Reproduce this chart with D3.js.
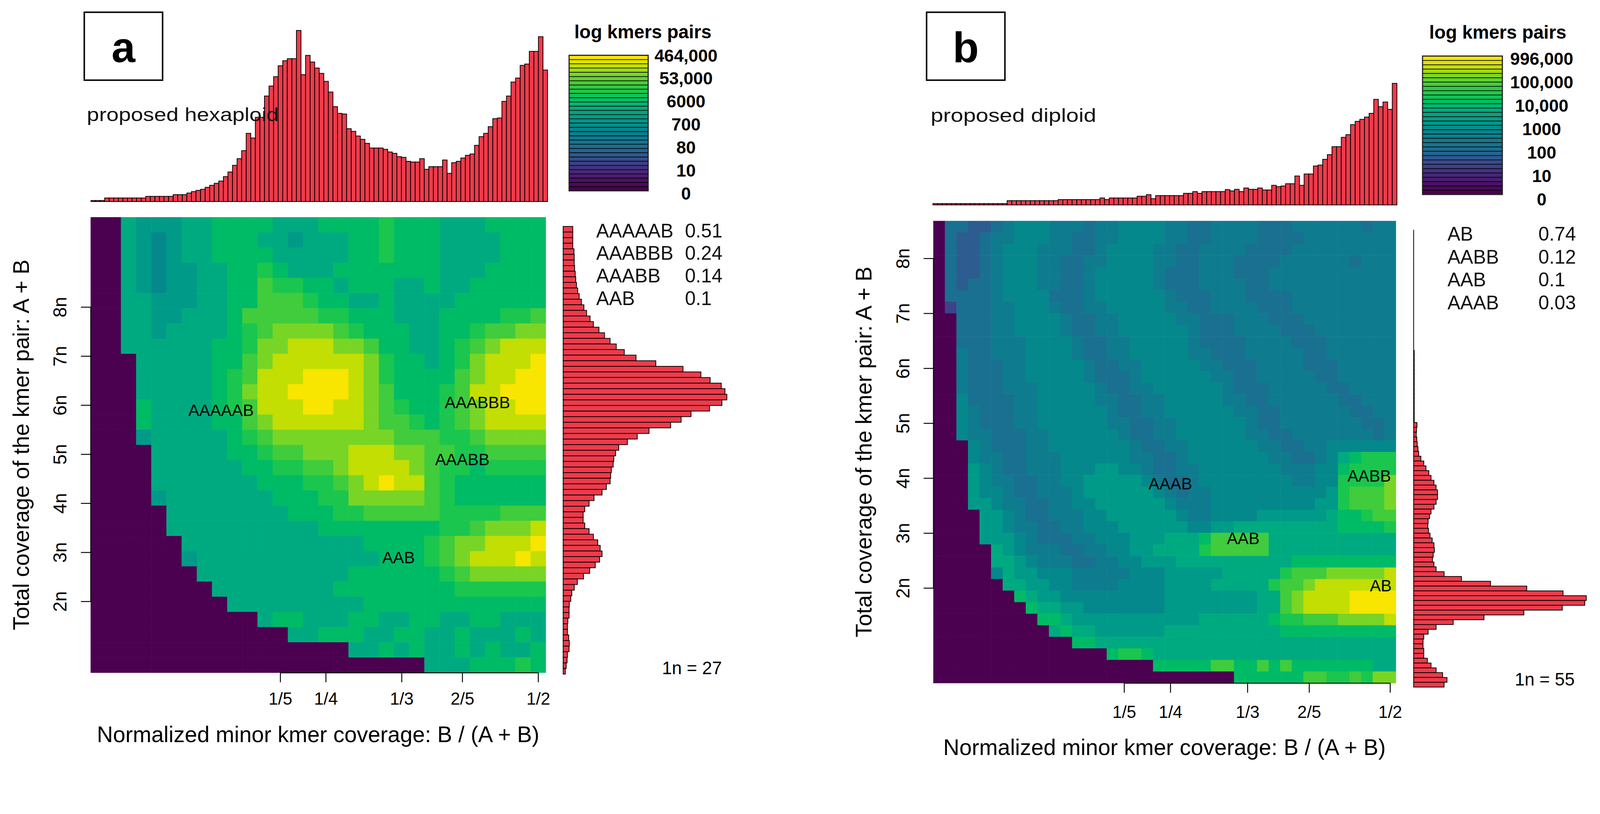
<!DOCTYPE html>
<html>
<head>
<meta charset="utf-8">
<script src="https://cdn.jsdelivr.net/npm/d3@7"></script>
<style>
  html, body { margin: 0; padding: 0; background: #fff; overflow: hidden; }
  #chart { display: block; width: 100%; height: auto; }
  svg text { font-family: "Liberation Sans", Arial, Helvetica, sans-serif; }
</style>
</head>
<body>
<svg id="chart" viewBox="0 0 4310 2084" preserveAspectRatio="xMinYMin meet"></svg>
<script>

// colour levels 0..15 (0 = empty cell), one hex char per cell, rows listed top to bottom
var heatA = [
  '00988 899aa aa999 aaaab aaa99 9aaaa',
  '00987 899aa a9989 99aab aaa99 99aaa',
  '00987 899aa aa999 99aab aaa99 99aaa',
  '00987 8899a aba99 9aaaa aaa99 9aaaa',
  '00987 8899a acbba a9aaa 99a99 aaaaa',
  '00998 8899a acccb aa99a 9999a aaaaa',
  '00998 8999a ccccc bbaaa 999aa aabbc',
  '00998 9999a bcddd dcbaa a99aa bccdd',
  '00999 999aa bddee eddca a99ab cdeee',
  '00099 999aa cdeee eeedb aa9ab deeef',
  '00099 999ab ceeef ffedb aaaac deeff',
  '00099 999ab deeff ffedc aaabc eefff',
  '000a9 999ab ceeef feedc baabc deeff',
  '000a9 999aa cdeee eeedc cbabc deeee',
  '00089 9999a bcddd ddddd cccbb cdddd',
  '00009 9999a abccd ddeee ddccb bcccc',
  '00009 99999 aabbc cdeee edcbb abbbb',
  '00009 99999 9aaab bcdef eecba aaaaa',
  '00008 99999 99aaa bbddd ddcba aaaaa',
  '00000 99999 999aa abbcc cccbb bbccc',
  '00000 99999 99999 aaaaa aaabb cddde',
  '00000 09999 99999 999aa aabcd deeef',
  '00000 08999 99999 9999a aabcd eeefe',
  '00000 00999 99999 99aaa aaabc ddddd',
  '00000 00099 99999 9aaaa aaaab bbbbb',
  '00000 00009 99999 999aa aaaaa aaaaa',
  '00000 00000 09aa9 99aa9 9aa99 aa999',
  '00000 00000 00099 aaa99 aa99a 999a9',
  '00000 00000 00000 0099a 9a99a 9a99a',
  '00000 00000 00000 00000 00999 aaaba'
];

var heatB = [
  '05544 56777 66656 67777 66556 66655 56666 66566',
  '05445 66777 66556 67777 66556 66655 55666 66666',
  '05445 67776 66556 77776 65566 66555 56666 66666',
  '05445 67776 65566 77776 65566 65555 66666 65666',
  '05445 67776 65567 77776 55566 65556 66666 66666',
  '05455 67776 65567 77776 55566 66556 66666 66666',
  '05555 67777 55567 77777 65556 66555 56666 66666',
  '03555 66777 65566 77777 66556 66655 56666 66666',
  '00555 66777 76556 67777 76655 56665 55666 66666',
  '00555 66777 76556 67777 77655 56666 55566 66666',
  '00555 66677 77655 66777 77655 55666 65556 66666',
  '00655 66677 77655 66777 77665 55666 66556 66666',
  '00655 56677 77765 56677 77766 55566 66555 66666',
  '00655 56677 77765 55677 77776 65566 66655 66666',
  '00655 56667 77776 55667 77777 65556 66665 56666',
  '00755 55667 77776 65566 77777 66556 66666 55666',
  '00765 55667 77777 65566 77777 76655 66666 65566',
  '00765 55667 77777 66556 67777 77655 66666 66556',
  '00766 55566 77777 76556 67777 77665 56666 66656',
  '00076 55566 77777 77655 66777 77766 55667 77777',
  '00076 65566 67777 77665 56777 77776 65567 9abbb',
  '00087 65566 67778 87765 56677 77777 66677 abbbb',
  '00087 66556 67788 88876 55677 77777 76677 bbbbd',
  '00087 76556 66788 88887 65667 77777 77778 bcccd',
  '00088 76655 66778 88888 76667 77777 77788 bcccd',
  '00008 87655 66677 88888 87667 77788 88889 aabcc',
  '00008 87665 56677 78888 88778 89999 99999 aaaab',
  '00008 88765 55667 77888 999ac cccc9 99999 99999',
  '00000 98766 65566 77889 999bc cccc9 99999 99999',
  '00000 99876 66556 67788 89999 99999 9aaaa aaaaa',
  '00000 79887 77666 66777 88888 99999 bcccd dddde',
  '00000 09988 77666 67777 88889 9999b ccdee eeeee',
  '00000 00a98 87777 77777 88888 88899 cdeee effff',
  '00000 000a9 98877 77777 88888 88899 cdeee effff',
  '00000 0000a a9888 88888 88899 9999a bbccc dddde',
  '00000 00000 9a998 88888 99999 99999 aaaaa aaaaa',
  '00000 00000 00aa9 99999 99999 99999 99999 99999',
  '00000 00000 00000 abba9 99999 99999 99999 99999',
  '00000 00000 00000 0000a aaaac caaca caaaa aaa99',
  '00000 00000 00000 00000 00000 0aaaa aaccb bcbdd'
];

// top histograms: minor kmer coverage, 100 bins from 0 to 1/2
var topHistA = [
  0.8, 0.8, 0.8, 2.7, 2.7, 2.7, 2.7, 2.7, 2.7, 2.7,
  2.7, 2.7, 3.9, 3.9, 3.9, 3.9, 3.9, 3.9, 5.2, 5.2,
  5.2, 6.4, 7.5, 8.4, 9.2, 10.7, 12.2, 13.7, 15.4, 18.7,
  22.2, 27.2, 32.2, 38.2, 51.2, 47.7, 63.2, 63.2, 79.2, 86.7,
  93.7, 101.9, 105.7, 107.2, 107.2, 128.4, 95.2, 109.7, 104.7, 100.2,
  96.2, 90.2, 82.2, 71.2, 66.2, 65.7, 54.7, 52.7, 49.2, 46.7,
  43.7, 40.2, 40.2, 40.2, 39.2, 37.2, 36.2, 33.7, 33.2, 30.2,
  29.7, 29.7, 32.2, 24.2, 26.2, 26.2, 26.2, 31.2, 21.2, 29.2,
  30.2, 32.7, 34.7, 35.7, 42.2, 48.7, 51.2, 56.2, 62.2, 62.7,
  75.2, 79.2, 89.7, 92.7, 102.2, 103.2, 112.7, 112.7, 123.7, 98.7
];
var topHistB = [
  1.0, 1.0, 1.0, 1.0, 1.0, 1.0, 1.0, 1.0, 1.0, 1.0,
  1.0, 1.0, 1.0, 1.0, 1.0, 1.0, 3.2, 3.2, 3.2, 3.2,
  3.2, 3.2, 3.2, 3.2, 3.2, 3.2, 3.2, 4.0, 4.0, 4.0,
  4.0, 4.0, 4.0, 4.0, 4.0, 4.0, 5.2, 4.0, 5.2, 5.2,
  5.2, 5.2, 5.2, 5.2, 6.5, 6.5, 7.7, 4.7, 7.0, 7.0,
  7.0, 7.0, 7.0, 7.0, 8.7, 8.7, 10.0, 8.7, 10.0, 10.0,
  10.0, 10.0, 10.0, 11.5, 10.5, 11.7, 10.0, 12.7, 11.7, 11.7,
  12.7, 11.2, 11.2, 14.7, 13.7, 14.2, 15.9, 15.9, 21.7, 14.7,
  23.2, 23.2, 29.2, 29.9, 34.2, 37.7, 43.7, 43.7, 50.7, 52.7,
  60.2, 62.7, 64.2, 65.9, 68.7, 79.2, 73.7, 77.2, 71.7, 91.2
];

// side histograms: total pair coverage, bars listed from the top (high coverage) down
var sideHistA = [
  7.8, 7.8, 7.8, 7.8, 8.8, 9.0, 9.0, 9.3, 9.8, 10.2,
  10.8, 11.8, 13.0, 14.8, 16.8, 19.0, 21.8, 24.5, 29.0, 33.5,
  38.0, 43.0, 49.5, 59.0, 75.0, 97.0, 111.5, 119.0, 128.0, 131.0,
  132.5, 128.5, 118.5, 103.5, 95.5, 87.0, 69.5, 60.0, 52.0, 45.0,
  42.5, 41.0, 40.5, 39.0, 38.5, 38.0, 35.0, 31.5, 25.0, 21.0,
  17.5, 16.2, 16.2, 17.5, 21.0, 24.5, 28.0, 30.0, 31.5, 29.5,
  26.0, 21.5, 16.5, 11.5, 9.0, 7.0, 6.2, 5.0, 4.8, 4.8,
  3.8, 3.5, 3.5, 4.5, 5.0, 4.8, 3.5, 3.2, 2.5, 1.8
];
var sideHistB = [
  0, 0, 0, 0, 0, 0, 0, 0, 0, 0,
  0, 0, 0, 0, 0, 0, 0, 0, 0, 0,
  0, 0, 0, 0, 0, 0.4, 0.4, 0.4, 0.4, 0.4,
  0.4, 0.4, 0.4, 0.4, 0.4, 0.4, 0.4, 0.4, 0.4, 0.4,
  2.3, 2.0, 1.8, 2.2, 2.5, 3.0, 3.5, 5.0, 7.0, 8.5,
  10.5, 12.0, 14.0, 15.5, 16.5, 16.5, 15.5, 14.0, 12.0, 11.0,
  10.0, 9.8, 10.3, 11.3, 12.8, 14.0, 14.3, 13.5, 13.0, 14.0,
  15.5, 21.0, 33.0, 53.0, 78.0, 103.0, 119.0, 118.0, 102.5, 76.0,
  48.5, 27.3, 15.5, 10.0, 7.0, 6.5, 6.5, 7.0, 7.0, 9.5,
  12.0, 15.5, 20.0, 23.0, 21.0
];

var xTickRatios = [1 / 5, 1 / 4, 1 / 3, 2 / 5, 1 / 2];
var xTickLabels = ['1/5', '1/4', '1/3', '2/5', '1/2'];
var yTickN = [2, 3, 4, 5, 6, 7, 8];
var yTickLabels = ['2n', '3n', '4n', '5n', '6n', '7n', '8n'];

var legendLabelsA = ['0', '10', '80', '700', '6000', '53,000', '464,000'];
var legendLabelsB = ['0', '10', '100', '1000', '10,000', '100,000', '996,000'];

var genomesA = ['AAAAAB', 'AAABBB', 'AAABB', 'AAB'];
var propsA = ['0.51', '0.24', '0.14', '0.1'];
var genomesB = ['AB', 'AABB', 'AAB', 'AAAB'];
var propsB = ['0.74', '0.12', '0.1', '0.03'];

// smudge labels: x in heatmap bins, y in multiples of n
var smudgeNamesA = ['AAAAAB', 'AAABBB', 'AAABB', 'AAB'];
var smudgeBinA = [8.6, 25.5, 24.5, 20.3];
var smudgeNA = [5.89, 6.05, 4.89, 2.89];
var smudgeNamesB = ['AAAB', 'AABB', 'AAB', 'AB'];
var smudgeBinB = [20.5, 37.7, 26.8, 38.7];
var smudgeNB = [3.9, 4.04, 2.9, 2.04];

// ---- styles ----
var paletteLevels = ['#4b0050', '#4a1466', '#47297a', '#3e4289', '#2c5c90', '#1a7090',
  '#0e7c8e', '#05888b', '#009a88', '#00aa80', '#00bb66', '#1ac64e',
  '#40cc3c', '#78d526', '#c2de02', '#f8e500'];
var barRed = '#ee3b4b';
var font = '"Liberation Sans", Arial, Helvetica, sans-serif';

var levelColor = d3.scaleLinear().domain(d3.range(paletteLevels.length)).range(paletteLevels);
var topScale = d3.scaleLinear()
  .domain([0, d3.max(topHistA.concat(topHistB))])
  .range([0, 461]);

var svg = d3.select('#chart');
svg.append('rect').attr('width', 4310).attr('height', 2084).attr('fill', '#fff');

var panels = [
  {
    letter: 'a', box: [227, 33, 211, 183],
    note: 'proposed hexaploid', noteX: 234, noteY: 326, noteLen: 517,
    heat: heatA, nb: 30, hx: [244, 1470], hy: [585, 1812], n2y: 1620, n8y: 827,
    top: topHistA, topX: [245, 1475], topBase: 543,
    side: sideHistA, sideX: 1517, sideW: 441, sideY: [610, 1816],
    legend: legendLabelsA, legBar: [1533, 149, 213, 365], legLabelX: 1848, legLabelY: [521, 149.5],
    legTitleX: 1547, legTitleY: 103,
    genomes: genomesA, props: propsA, gX: 1606, pX: 1845, gY0: 621, gStep: 60.7,
    sNames: smudgeNamesA, sBin: smudgeBinA, sN: smudgeNA,
    nLabel: '1n = 27', nLabelX: 1864, nLabelY: 1800,
    xTickPad: 28, xTitleY: 1978, yTitleX: 57
  },
  {
    letter: 'b', box: [2496, 33, 211, 183],
    note: 'proposed diploid', noteX: 2507, noteY: 328, noteLen: 446,
    heat: heatB, nb: 40, hx: [2514, 3760], hy: [595, 1840], n2y: 1584, n8y: 696,
    top: topHistB, topX: [2513, 3763], topBase: 552,
    side: sideHistB, sideX: 3808, sideW: 465, sideY: [620, 1851],
    legend: legendLabelsB, legBar: [3832, 151, 215, 373], legLabelX: 4153, legLabelY: [537, 158],
    legTitleX: 3850, legTitleY: 104,
    genomes: genomesB, props: propsB, gX: 3899, pX: 4144, gY0: 630, gStep: 61.7,
    sNames: smudgeNamesB, sBin: smudgeBinB, sN: smudgeNB,
    nLabel: '1n = 55', nLabelX: 4161, nLabelY: 1830,
    xTickPad: 35, xTitleY: 2013, yTitleX: 2327
  }
];

var drawPanel = function (p) {
  var g = svg.append('g').attr('class', 'panel-' + p.letter);

  // heatmap
  var cells = [];
  p.heat.forEach(function (row, r) {
    row.replace(/ /g, '').split('').forEach(function (ch, c) {
      cells.push({ r: r, c: c, level: parseInt(ch, 16) });
    });
  });
  var xs = d3.scaleLinear().domain([0, p.nb]).range(p.hx);
  var rs = d3.scaleLinear().domain([0, p.nb]).range(p.hy);
  var ns = d3.scaleLinear().domain([2, 8]).range([p.n2y, p.n8y]);

  g.append('g').selectAll('rect')
    .data(cells)
    .enter()
    .append('rect')
    .attr('x', function (d) { return xs(d.c); })
    .attr('y', function (d) { return rs(d.r); })
    .attr('width', function (d) { return xs(d.c + 1) - xs(d.c) + 0.6; })
    .attr('height', function (d) { return rs(d.r + 1) - rs(d.r) + 0.6; })
    .attr('fill', function (d) { return levelColor(d.level); });

  // smudge labels
  g.append('g').selectAll('text')
    .data(p.sNames)
    .enter()
    .append('text')
    .attr('x', function (d, i) { return xs(p.sBin[i]); })
    .attr('y', function (d, i) { return ns(p.sN[i]); })
    .attr('text-anchor', 'middle')
    .attr('dominant-baseline', 'central')
    .attr('font-size', 44)
    .attr('fill', '#000')
    .text(function (d) { return d; });

  // x axis, line only between first and last tick like base R
  var xt = xTickRatios.map(function (r) { return Math.min(r * 2 * p.nb + 0.5, p.nb - 0.5); });
  var xAxisScale = d3.scaleLinear()
    .domain([xt[0], xt[xt.length - 1]])
    .range([xs(xt[0]), xs(xt[xt.length - 1])]);
  var xg = g.append('g')
    .attr('transform', 'translate(0,' + p.hy[1] + ')')
    .call(d3.axisBottom(xAxisScale)
      .tickValues(xt)
      .tickFormat(function (d, i) { return xTickLabels[i]; })
      .tickSize(26)
      .tickSizeOuter(0)
      .tickPadding(p.xTickPad));
  xg.attr('font-size', 46).attr('font-family', font);
  xg.selectAll('path, line').attr('stroke', '#000').attr('stroke-width', 2.5);

  // y axis with labels parallel to the axis
  var yg = g.append('g')
    .attr('transform', 'translate(' + p.hx[0] + ',0)')
    .call(d3.axisLeft(ns)
      .tickValues(yTickN)
      .tickFormat(function (d, i) { return yTickLabels[i]; })
      .tickSize(26)
      .tickSizeOuter(0));
  yg.attr('font-size', 50).attr('font-family', font);
  yg.selectAll('path, line').attr('stroke', '#000').attr('stroke-width', 2.5);
  yg.selectAll('.tick text')
    .attr('x', 0)
    .attr('y', -82)
    .attr('dy', null)
    .attr('text-anchor', 'middle')
    .attr('dominant-baseline', 'central')
    .attr('transform', 'rotate(-90)');

  // axis titles
  g.append('text')
    .attr('x', (p.hx[0] + p.hx[1]) / 2)
    .attr('y', p.xTitleY)
    .attr('text-anchor', 'middle')
    .attr('dominant-baseline', 'central')
    .attr('font-size', 60)
    .text('Normalized minor kmer coverage: B / (A + B)');

  g.append('text')
    .attr('transform', 'translate(' + p.yTitleX + ',' + ((p.hy[0] + p.hy[1]) / 2) + ') rotate(-90)')
    .attr('text-anchor', 'middle')
    .attr('dominant-baseline', 'central')
    .attr('font-size', 60)
    .text('Total coverage of the kmer pair: A + B');

  // top histogram
  var tx = d3.scaleLinear().domain([0, p.top.length]).range(p.topX);
  g.append('g').selectAll('rect')
    .data(p.top)
    .enter()
    .append('rect')
    .attr('x', function (d, i) { return tx(i); })
    .attr('width', function (d, i) { return tx(i + 1) - tx(i); })
    .attr('y', function (d) { return p.topBase - topScale(d); })
    .attr('height', function (d) { return topScale(d); })
    .attr('fill', barRed)
    .attr('stroke', '#000')
    .attr('stroke-width', 2);

  // side histogram
  var sy = d3.scaleLinear().domain([0, p.side.length]).range(p.sideY);
  var sw = d3.scaleLinear().domain([0, d3.max(p.side)]).range([0, p.sideW]);
  g.append('g').selectAll('rect')
    .data(p.side)
    .enter()
    .append('rect')
    .attr('x', p.sideX)
    .attr('y', function (d, i) { return sy(i); })
    .attr('height', function (d, i) { return sy(i + 1) - sy(i); })
    .attr('width', function (d) { return Math.max(sw(d), 0.01); })
    .attr('fill', barRed)
    .attr('stroke', '#000')
    .attr('stroke-width', 2);

  // panel letter box and note
  g.append('rect')
    .attr('x', p.box[0]).attr('y', p.box[1])
    .attr('width', p.box[2]).attr('height', p.box[3])
    .attr('fill', '#fff')
    .attr('stroke', '#000')
    .attr('stroke-width', 4);
  g.append('text')
    .attr('x', p.box[0] + p.box[2] / 2)
    .attr('y', 167)
    .attr('text-anchor', 'middle')
    .attr('font-size', 115)
    .attr('font-weight', 'bold')
    .text(p.letter);

  g.append('text')
    .attr('x', p.noteX)
    .attr('y', p.noteY)
    .attr('font-size', 50)
    .attr('textLength', p.noteLen)
    .attr('lengthAdjust', 'spacingAndGlyphs')
    .attr('fill', '#111')
    .text(p.note);

  // colour legend
  var nBands = 32;
  var band = d3.scaleLinear().domain([0, nBands]).range([p.legBar[1] + p.legBar[3], p.legBar[1]]);
  g.append('g').selectAll('rect')
    .data(d3.range(nBands))
    .enter()
    .append('rect')
    .attr('x', p.legBar[0])
    .attr('width', p.legBar[2])
    .attr('y', function (d) { return band(d + 1); })
    .attr('height', function (d) { return band(d) - band(d + 1); })
    .attr('fill', function (d) { return levelColor(d / (nBands - 1) * 15); })
    .attr('stroke', '#000')
    .attr('stroke-width', 1.6);
  g.append('rect')
    .attr('x', p.legBar[0]).attr('y', p.legBar[1])
    .attr('width', p.legBar[2]).attr('height', p.legBar[3])
    .attr('fill', 'none')
    .attr('stroke', '#222')
    .attr('stroke-width', 3);

  var ly = d3.scalePoint().domain(p.legend).range(p.legLabelY);
  g.append('g').selectAll('text')
    .data(p.legend)
    .enter()
    .append('text')
    .attr('x', p.legLabelX)
    .attr('y', function (d) { return ly(d); })
    .attr('text-anchor', 'middle')
    .attr('dominant-baseline', 'central')
    .attr('font-size', 47)
    .attr('font-weight', 'bold')
    .text(function (d) { return d; });

  g.append('text')
    .attr('x', p.legTitleX)
    .attr('y', p.legTitleY)
    .attr('font-size', 50)
    .attr('font-weight', 'bold')
    .text('log kmers pairs');

  // genome proportions
  var tb = g.append('g').attr('font-size', 52).attr('fill', '#111');
  tb.selectAll('text.gen')
    .data(p.genomes)
    .enter()
    .append('text')
    .attr('class', 'gen')
    .attr('x', p.gX)
    .attr('y', function (d, i) { return p.gY0 + i * p.gStep; })
    .attr('dominant-baseline', 'central')
    .text(function (d) { return d; });
  tb.selectAll('text.prop')
    .data(p.props)
    .enter()
    .append('text')
    .attr('class', 'prop')
    .attr('x', p.pX)
    .attr('y', function (d, i) { return p.gY0 + i * p.gStep; })
    .attr('dominant-baseline', 'central')
    .text(function (d) { return d; });

  g.append('text')
    .attr('x', p.nLabelX)
    .attr('y', p.nLabelY)
    .attr('text-anchor', 'middle')
    .attr('dominant-baseline', 'central')
    .attr('font-size', 48)
    .text(p.nLabel);
};

panels.forEach(drawPanel);
</script>
</body>
</html>
